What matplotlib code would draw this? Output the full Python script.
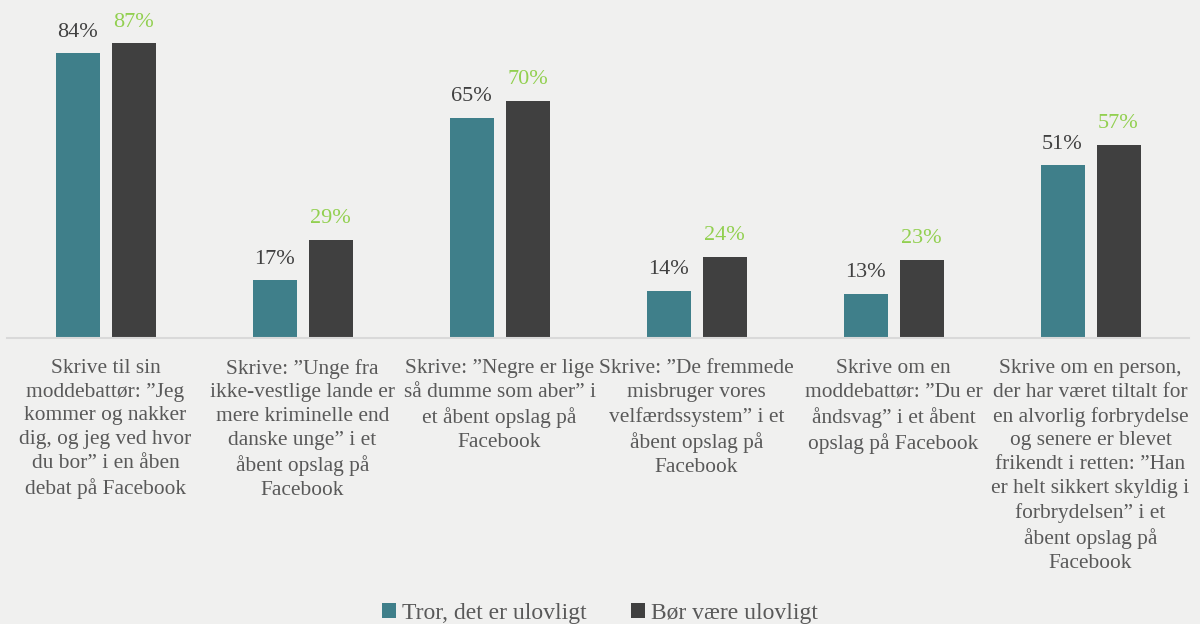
import numpy as np
import matplotlib.pyplot as plt

categories = [
    'Skrive til sin\nmoddebattør: ”Jeg\nkommer og nakker\ndig, og jeg ved hvor\ndu bor” i en åben\ndebat på Facebook',
    'Skrive: ”Unge fra\nikke-vestlige lande er\nmere kriminelle end\ndanske unge” i et\nåbent opslag på\nFacebook',
    'Skrive: ”Negre er lige\nså dumme som aber” i\net åbent opslag på\nFacebook',
    'Skrive: ”De fremmede\nmisbruger vores\nvelfærdssystem” i et\nåbent opslag på\nFacebook',
    'Skrive om en\nmoddebattør: ”Du er\nåndsvag” i et åbent\nopslag på Facebook',
    'Skrive om en person,\nder har været tiltalt for\nen alvorlig forbrydelse\nog senere er blevet\nfrikendt i retten: ”Han\ner helt sikkert skyldig i\nforbrydelsen” i et\nåbent opslag på\nFacebook',
]
tror = [84, 17, 65, 14, 13, 51]
boer = [87, 29, 70, 24, 23, 57]
series_names = ['Tror, det er ulovligt', 'Bør være ulovligt']

bg = '#f0f0ef'
teal = '#3f7f8a'
dark = '#404040'
green = '#92d050'
txt = '#595959'

plt.rcParams['font.family'] = ['Liberation Serif', 'DejaVu Serif']

fig = plt.figure(figsize=(12, 6.24), dpi=100, facecolor=bg)
ax = fig.add_axes([7 / 1200, 1 - 338 / 624, 1182 / 1200, 338 / 624])
ax.set_facecolor(bg)

x = np.arange(len(categories))
w = 44 / 197
off = 28 / 197
b1 = ax.bar(x - off, tror, w, color=teal, label=series_names[0])
b2 = ax.bar(x + off, boer, w, color=dark, label=series_names[1])

for r, v in zip(b1, tror):
    ax.text(r.get_x() + r.get_width() / 2, v + 3.4, f'{v}%', ha='center', va='bottom',
            fontsize=16, color='#404040')
for r, v in zip(b2, boer):
    ax.text(r.get_x() + r.get_width() / 2, v + 3.4, f'{v}%', ha='center', va='bottom',
            fontsize=16, color=green)

ax.set_xlim(-0.5, len(categories) - 0.5)
ax.set_ylim(0, 99.7)
ax.set_yticks([])
ax.set_xticks(x)
ax.set_xticklabels(categories, fontsize=15.4, color=txt, linespacing=1.34, va='top')
ax.tick_params(axis='x', length=0, pad=15)
for s in ['top', 'right', 'left']:
    ax.spines[s].set_visible(False)
ax.spines['bottom'].set_color('#d9d9d9')
ax.spines['bottom'].set_linewidth(1.5)

leg = fig.legend(loc='lower center', bbox_to_anchor=(0.5, -0.034), ncol=2, frameon=False,
                 fontsize=17, handlelength=0.6, handleheight=0.6, handletextpad=0.25,
                 columnspacing=1.9)
for t in leg.get_texts():
    t.set_color(txt)

fig.savefig('out.png', dpi=100, facecolor=bg)
